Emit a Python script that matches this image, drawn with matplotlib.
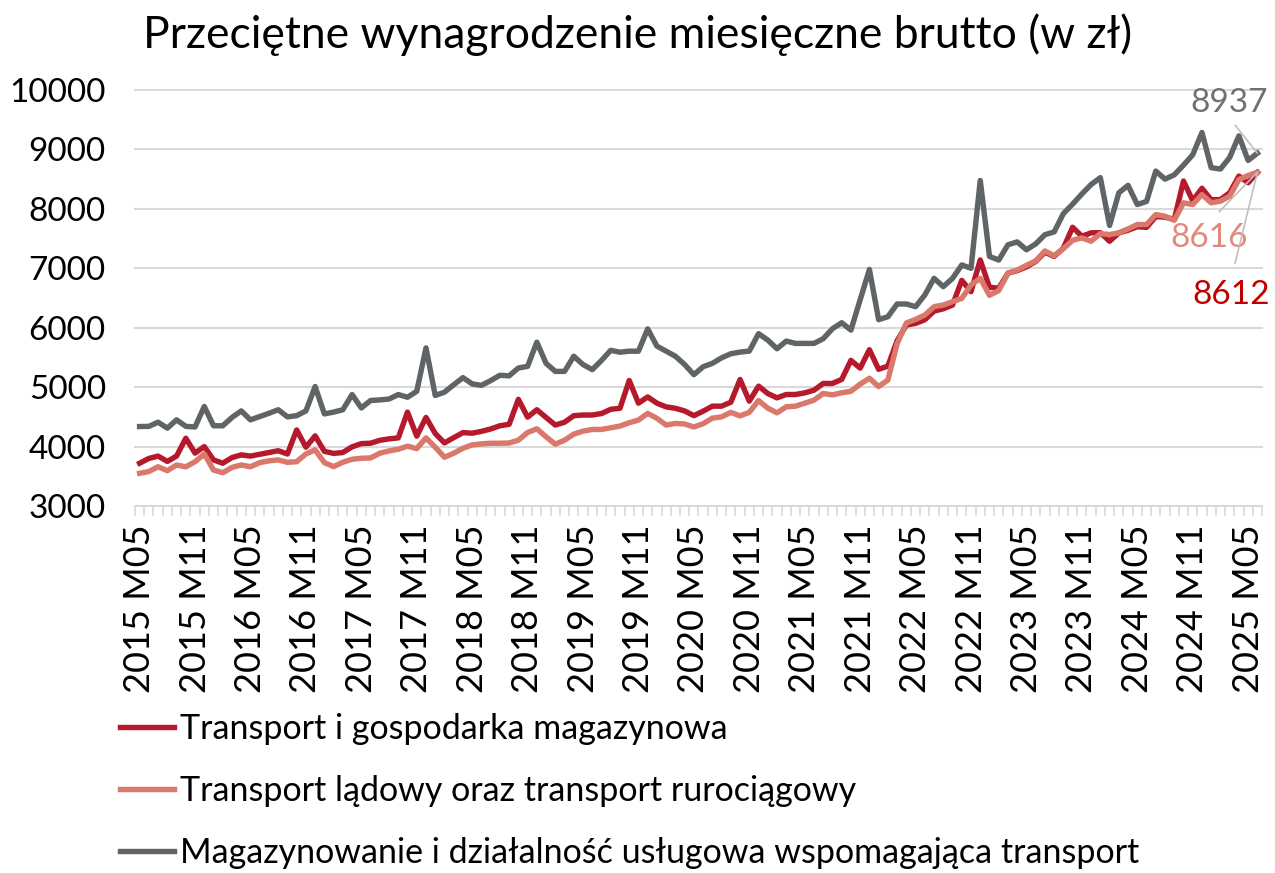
import numpy as np
import pandas as pd
import matplotlib
matplotlib.use("Agg")
import matplotlib.pyplot as plt

plt.rcParams['font.family'] = ['Lato', 'DejaVu Sans']

# ── Data (monthly, 2015 M05 – 2025 M06) ─────────────────────────────────────
TITLE = "Przeciętne wynagrodzenie miesięczne brutto (w zł)"
LABEL_TRANS = "Transport i gospodarka magazynowa"
LABEL_LAND = "Transport lądowy oraz transport rurociągowy"
LABEL_STORE = "Magazynowanie i działalność usługowa wspomagająca transport"

periods = pd.period_range("2015-05", "2025-06", freq="M")
month_labels = [f"{p.year} M{p.month:02d}" for p in periods]

transport = [3720, 3800, 3840, 3750, 3840, 4140, 3890, 4000, 3775, 3720,
             3815, 3860, 3840, 3870, 3900, 3930, 3875, 4280, 3990, 4180,
             3920, 3885, 3900, 3995, 4050, 4056, 4105, 4130, 4146, 4580,
             4175, 4490, 4220, 4062, 4150, 4235, 4225, 4256, 4296, 4350,
             4375, 4795, 4495, 4620, 4490, 4362, 4410, 4520, 4531, 4531,
             4556, 4627, 4644, 5112, 4730, 4835, 4730, 4668, 4644, 4600,
             4520, 4596, 4680, 4680, 4747, 5129, 4764, 5017, 4893, 4820,
             4876, 4876, 4904, 4949, 5062, 5062, 5130, 5450, 5320, 5630,
             5300, 5354, 5780, 6045, 6073, 6135, 6280, 6318, 6382, 6797,
             6607, 7140, 6680, 6666, 6918, 6960, 7025, 7115, 7270, 7200,
             7340, 7690, 7540, 7596, 7600, 7455, 7596, 7640, 7700, 7688,
             7870, 7862, 7820, 8468, 8138, 8347, 8152, 8157, 8270, 8552,
             8440, 8612]

land = [3550, 3580, 3660, 3595, 3690, 3660, 3745, 3875, 3605, 3560,
        3650, 3690, 3660, 3730, 3760, 3775, 3735, 3745, 3875, 3945,
        3730, 3663, 3736, 3787, 3803, 3809, 3888, 3927, 3955, 4006,
        3966, 4146, 3989, 3820, 3888, 3972, 4028, 4045, 4056, 4056,
        4060, 4107, 4237, 4299, 4164, 4040, 4107, 4209, 4260, 4288,
        4288, 4316, 4345, 4401, 4446, 4559, 4475, 4362, 4390, 4380,
        4330, 4385, 4478, 4500, 4575, 4516, 4576, 4775, 4646, 4568,
        4669, 4680, 4730, 4781, 4893, 4870, 4905, 4930, 5050, 5150,
        5010, 5120, 5730, 6080, 6140, 6213, 6354, 6382, 6438, 6494,
        6719, 6831, 6545, 6625, 6918, 6970, 7050, 7124, 7292, 7210,
        7330, 7472, 7511, 7455, 7584, 7567, 7596, 7663, 7736, 7736,
        7904, 7876, 7809, 8101, 8073, 8241, 8101, 8129, 8213, 8494,
        8562, 8616]

storage = [4337, 4340, 4410, 4310, 4450, 4340, 4330, 4675, 4350, 4350,
           4490, 4600, 4450, 4505, 4560, 4620, 4500, 4520, 4600, 5010,
           4550, 4580, 4620, 4875, 4650, 4775, 4785, 4800, 4875, 4830,
           4930, 5660, 4860, 4915, 5040, 5160, 5055, 5030, 5110, 5200,
           5190, 5322, 5350, 5757, 5400, 5265, 5265, 5520, 5380, 5294,
           5450, 5620, 5588, 5605, 5605, 5980, 5690, 5605, 5520, 5380,
           5210, 5343, 5400, 5494, 5562, 5590, 5607, 5900, 5792, 5646,
           5775, 5736, 5736, 5736, 5815, 5983, 6084, 5960, 6470, 6980,
           6135, 6185, 6399, 6399, 6354, 6551, 6831, 6691, 6831, 7056,
           7000, 8478, 7200, 7138, 7396, 7444, 7312, 7410, 7565, 7612,
           7920, 8080, 8250, 8410, 8525, 7720, 8270, 8395, 8073, 8125,
           8636, 8500, 8572, 8735, 8910, 9285, 8693, 8670, 8865, 9228,
           8815, 8937]

y_ticks = list(range(3000, 10001, 1000))

# ── Style ───────────────────────────────────────────────────────────────────
C_TRANS = '#B5192B'
C_LAND = '#D9786B'
C_STORE = '#5F6467'
C_GRID = '#D9D9D9'
LW = 3.9

# ── Plot ────────────────────────────────────────────────────────────────────
W, H = 1275, 873
fig = plt.figure(figsize=(W / 100, H / 100), dpi=100)
ax = fig.add_axes([135 / W, 1 - 506 / H, (1262 - 135) / W, (506 - 90) / H])

x = np.arange(len(month_labels))
ax.plot(x, transport, color=C_TRANS, lw=LW, label=LABEL_TRANS,
        solid_joinstyle='round')
ax.plot(x, land, color=C_LAND, lw=LW, label=LABEL_LAND,
        solid_joinstyle='round')
ax.plot(x, storage, color=C_STORE, lw=LW, label=LABEL_STORE,
        solid_joinstyle='round')

ax.set_xlim(-0.5, len(x) - 0.5)
ax.set_ylim(3000, 10000)
ax.set_yticks(y_ticks)
ax.set_yticklabels([str(v) for v in y_ticks])
ax.yaxis.grid(True, color=C_GRID, lw=1.5)
for gl in ax.get_ygridlines():
    gl.set_clip_on(False)
ax.set_axisbelow(True)

ax.set_xticks(x[::6])
ax.set_xticklabels(month_labels[::6], rotation=90)
ax.set_xticks(np.arange(-0.5, len(x), 1), minor=True)
ax.tick_params(axis='x', which='major', length=0, pad=13, labelsize=26)
ax.tick_params(axis='x', which='minor', length=7, width=1.2, color=C_GRID)
ax.tick_params(axis='y', length=0, pad=21, labelsize=24)
for s in ax.spines.values():
    s.set_visible(False)

fig.text(0.5, 1 - 35 / H, TITLE, ha='center', va='center', fontsize=32)

# end-value labels with leader lines
last = len(x) - 1
ax.annotate(f"{storage[-1]}", xy=(last, storage[-1]), xytext=(-20, 36),
            textcoords='offset points', ha='center', va='center',
            fontsize=24, color='#6F7173',
            arrowprops=dict(arrowstyle='-', color='#BFBFBF', lw=1.2,
                            relpos=(0.5, 0), shrinkA=4, shrinkB=0))
ax.annotate(f"{land[-1]}", xy=(last, land[-1]), xytext=(-35, -47),
            textcoords='offset points', ha='center', va='center',
            fontsize=24, color='#E0897C',
            arrowprops=dict(arrowstyle='-', color='#BFBFBF', lw=1.2,
                            relpos=(0.5, 1), shrinkA=8, shrinkB=0))
ax.annotate(f"{transport[-1]}", xy=(last, transport[-1]), xytext=(-19, -88),
            textcoords='offset points', ha='center', va='center',
            fontsize=24, color='#C00000',
            arrowprops=dict(arrowstyle='-', color='#BFBFBF', lw=1.2,
                            relpos=(0.5, 1), shrinkA=10, shrinkB=0))

ax.legend(loc='upper left', bbox_to_anchor=(120 / W, 1 - 713 / H),
          bbox_transform=fig.transFigure, frameon=False, fontsize=24.5,
          handlelength=1.6, handletextpad=0.15, labelspacing=0.88,
          borderpad=0, borderaxespad=0)

fig.savefig('out.png', dpi=100)
